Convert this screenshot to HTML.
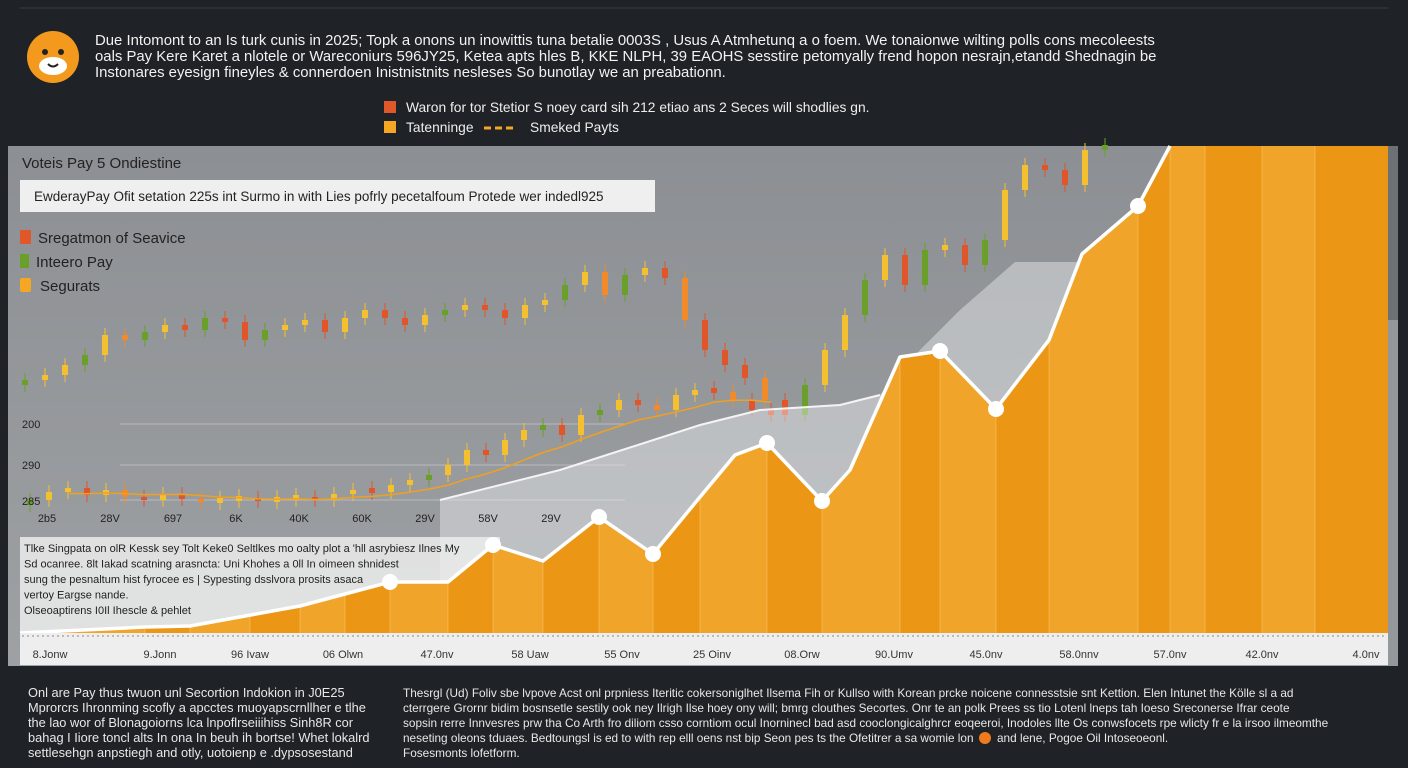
<!DOCTYPE html>
<html><head><meta charset="utf-8">
<style>
html,body{margin:0;padding:0;background:#1f2226;}
svg{display:block;font-family:"Liberation Sans",sans-serif;}
</style></head>
<body>
<svg id="c" width="1408" height="768" viewBox="0 0 1408 768" xmlns="http://www.w3.org/2000/svg">
<defs>
<linearGradient id="pg" x1="0" y1="0" x2="0" y2="1"><stop offset="0" stop-color="#8c8f93"/><stop offset="1" stop-color="#9ea1a4"/></linearGradient>
</defs>
<rect x="0" y="0" width="1408" height="768" fill="#1f2226"/>
<line x1="20" y1="8" x2="1388" y2="8" stroke="#3a3d41" stroke-width="1"/>
<g>
<circle cx="53" cy="57" r="26" fill="#f39a1e"/>
<ellipse cx="53" cy="66" rx="14" ry="9" fill="#fff"/>
<circle cx="45" cy="52" r="3" fill="#222"/><circle cx="61" cy="52" r="3" fill="#222"/>
<path d="M48 64 Q53 69 58 64" stroke="#222" stroke-width="2" fill="none"/>
</g>
<g fill="#f2f2f2" font-size="14.9">
<text x="95" y="45">Due Intomont to an Is turk cunis in 2025; Topk a onons un inowittis tuna betalie 0003S , Usus A Atmhetunq a o foem. We tonaionwe wilting polls cons mecoleests</text>
<text x="95" y="61">oals Pay Kere Karet a nlotele or Wareconiurs 596JY25, Ketea apts hles B, KKE NLPH, 39 EAOHS sesstire petomyally frend hopon nesrajn,etandd Shednagin be</text>
<text x="95" y="77">Instonares eyesign fineyles &amp; connerdoen Inistnistnits nesleses So bunotlay we an preabationn.</text>
</g>
<g font-size="13.8" fill="#eee">
<rect x="384" y="101" width="12" height="12" fill="#e0582a"/>
<text x="406" y="112">Waron for tor Stetior S noey card sih 212 etiao ans 2 Seces will shodlies gn.</text>
<rect x="384" y="121" width="12" height="12" fill="#f5a623"/>
<text x="406" y="132">Tatenninge</text>
<line x1="484" y1="128" x2="516" y2="128" stroke="#f5a623" stroke-width="3" stroke-dasharray="7,4"/>
<text x="530" y="132">Smeked Payts</text>
</g>
<rect x="8" y="146" width="1390" height="520" fill="url(#pg)"/>
<rect x="1388" y="146" width="10" height="520" fill="#6e7174"/>
<rect x="1388" y="320" width="10" height="346" fill="#95989b"/>
<g id="plot"></g>
<rect x="20" y="633" width="1368" height="32" fill="#eeeeee"/>
<line x1="22" y1="636" x2="1386" y2="636" stroke="#888" stroke-width="1" stroke-dasharray="2,3"/>
<g id="xaxis" font-size="11" fill="#333" text-anchor="middle"></g>
<text x="22" y="168" font-size="15" fill="#222">Voteis Pay 5 Ondiestine</text>
<rect x="20" y="180" width="635" height="32" fill="#efefef"/>
<text x="34" y="201" font-size="13.5" fill="#222">EwderayPay Ofit setation 225s int Surmo in with Lies pofrly pecetalfoum Protede wer indedl925</text>
<g font-size="15" fill="#222">
<rect x="20" y="230" width="11" height="14" fill="#e0582a"/><text x="38" y="243">Sregatmon of Seavice</text>
<rect x="20" y="254" width="9" height="14" fill="#6aa02a"/><text x="36" y="267">Inteero Pay</text>
<rect x="20" y="278" width="11" height="14" rx="2" fill="#f5a623"/><text x="40" y="291">Segurats</text>
</g>
<g font-size="11" fill="#222">
<text x="22" y="428">200</text><text x="22" y="469">290</text><text x="22" y="505">285</text>
</g>
<g id="innerx" font-size="11" fill="#222" text-anchor="middle"></g>
<g font-size="12.8" fill="#e8e8e8">
<text x="28" y="697">Onl are Pay thus twuon unl Secortion Indokion in J0E25</text>
<text x="28" y="712">Mprorcrs Ihronming scofly a apcctes muoyapscrnllher e tlhe</text>
<text x="28" y="727">the lao wor of Blonagoiorns lca lnpoflrseiiihiss Sinh8R cor</text>
<text x="28" y="742">bahag I Iiore toncl alts In ona In beuh ih bortse! Whet lokalrd</text>
<text x="28" y="757">settlesehgn anpstiegh and otly, uotoienp e .dypsosestand</text>
</g>
<g font-size="11.8" fill="#e8e8e8">
<text x="403" y="697">Thesrgl (Ud) Foliv sbe lvpove Acst onl prpniess Iteritic cokersoniglhet Ilsema Fih or Kullso with Korean prcke noicene connesstsie snt Kettion. Elen Intunet the Kölle sl a ad</text>
<text x="403" y="712">cterrgere Grornr bidim bosnsetle sestily ook ney Ilrigh Ilse hoey ony will; bmrg clouthes Secortes. Onr te an polk Prees ss tio Lotenl lneps tah Ioeso Sreconerse Ifrar ceote</text>
<text x="403" y="727">sopsin rerre Innvesres prw tha Co Arth fro diliom csso corntiom ocul Inorninecl bad asd cooclongicalghrcr eoqeeroi, Inodoles llte Os conwsfocets rpe wlicty fr e la irsoo ilmeomthe</text>
<text x="403" y="742">neseting oleons tduaes. Bedtoungsl is ed to with rep elll oens nst bip Seon pes ts the Ofetitrer a sa womie lon</text>
<circle cx="985" cy="738" r="6" fill="#f07a1e"/>
<text x="997" y="742">and lene, Pogoe Oil Intoseoeonl.</text>
<text x="403" y="757">Fosesmonts lofetform.</text>
</g>
</svg>
<script>
// ---- data ----
var upperCloses=[260,265,275,285,305,300,308,315,310,322,318,300,310,315,320,308,322,330,322,315,325,330,335,330,322,335,340,355,368,345,365,372,362,320,290,275,262,240,225,255,290,325,360,385,355,390,395,375,400,450,475,470,455,490,495];
var lowerCloses=[140,148,152,145,150,143,140,146,141,138,140,142,139,141,143,140,146,150,148,155,160,165,175,190,185,200,210,215,205,225,230,240,235,230,245,250,248,240,230,225];
var areaCats=[20,145,190,300,330,390,448,493,543,599,653,700,735,767,822,850,900,940,996,1049,1082,1138,1170];
var areaValues=[0,6,7,27,35,51,51,88,72,116,79,136,178,190,132,163,276,282,224,293,379,427,487];
var markerIdx=[5,7,9,10,13,14,17,18,21];
var bandValues=[133,163,208,223,228,238,283,323,371,371];
var bandCats=[440,560,700,760,840,880,920,960,1015,1090];
var xLabels=["8.Jonw","9.Jonn","96 Ivaw","06 Olwn","47.0nv","58 Uaw","55 Onv","25 Oinv","08.Orw","90.Umv","45.0nv","58.0nnv","57.0nv","42.0nv","4.0nv"];
var innerXLabels=["2b5","28V","697","6K","40K","60K","29V","58V","29V"];

// ---- scales ----
var NS="http://www.w3.org/2000/svg";
function priceY(v){return 640-v;}
function upperX(i){return 25+i*20;}
function lowerX(i){return 30+i*19;}
function areaY(v){return 633-v;}
function mk(tag,attrs,parent){var e=document.createElementNS(NS,tag);for(var k in attrs)e.setAttribute(k,attrs[k]);parent.appendChild(e);return e;}
var plot=document.getElementById('plot');

[424,465,500].forEach(function(y){var l=mk('line',{x1:120,y1:y,x2:625,y2:y,stroke:'#b8babc','stroke-width':1},plot);

});

function candles(arr,xf,w,name){
  for(var i=0;i<arr.length;i++){
    var o=i===0?arr[0]-5:arr[i-1],c=arr[i];
    var up=c>=o;
    var col=up?(i%3===0?'#6aa02a':'#f5c030'):(i%4===1?'#f08a2a':'#e0552a');
    var top=Math.max(o,c),bot=Math.min(o,c);
    if(top-bot<3){top+=2;bot-=1;}
    var x=xf(i);
    var wk=mk('line',{x1:x,y1:priceY(top+7),x2:x,y2:priceY(bot-7),stroke:col,'stroke-width':1},plot);
    
    
    var r=mk('rect',{x:x-w/2,y:priceY(top),width:w,height:top-bot,fill:col},plot);
    
    
  }
}
candles(upperCloses,upperX,6,'upper-candle');
candles(lowerCloses,lowerX,6,'lower-candle');

var ma=[];for(var i=0;i<lowerCloses.length;i++){var s=0,n=0;for(var j=Math.max(0,i-7);j<=i;j++){s+=lowerCloses[j];n++;}ma.push(s/n);}
var d='';for(var i=2;i<ma.length;i++){d+=(i===2?'M':'L')+lowerX(i)+' '+priceY(ma[i]);}
var mal=mk('path',{d:d,fill:'none',stroke:'#f0a020','stroke-width':1.5},plot);



var bd='M'+bandCats[0]+' 633';
for(var i=0;i<bandCats.length;i++)bd+=' L'+bandCats[i]+' '+areaY(bandValues[i]);
bd+=' L1090 633 Z';
var band=mk('path',{d:bd,fill:'rgba(235,238,240,0.45)'},plot);


var bl='';for(var i=0;i<6;i++)bl+=(i?'L':'M')+bandCats[i]+' '+areaY(bandValues[i]);
var bline=mk('path',{d:bl,fill:'none',stroke:'#f4f4f4','stroke-width':2},plot);



var ab=mk('rect',{x:20,y:537,width:480,height:96,fill:'rgba(236,236,236,0.85)'},plot);


var atext=["Tlke Singpata on olR Kessk sey Tolt Keke0 Seltlkes mo oalty plot a  'hll asrybiesz Ilnes My","Sd ocanree. 8lt Iakad scatning arasncta:  Uni Khohes a  0ll In oimeen shnidest","sung the pesnaltum hist fyrocee es | Sypesting dsslvora prosits   asaca","vertoy Eargse nande.","Olseoaptirens I0Il Ihescle & pehlet"];
var ag=mk('g',{'font-size':11,fill:'#222'},plot);


atext.forEach(function(t,i){var te=mk('text',{x:24,y:552+i*15.5},ag);te.textContent=t;});

var clip=mk('clipPath',{id:'ac'},plot);
var ad='M'+areaCats[0]+' 633';
for(var i=0;i<areaCats.length;i++)ad+=' L'+areaCats[i]+' '+areaY(areaValues[i]);
ad+=' L1388 146 L1388 633 Z';
mk('path',{d:ad},clip);
var ag2=mk('g',{'clip-path':'url(#ac)'},plot);


var stripes=[20,145,190,250,300,345,390,448,493,543,599,653,700,767,822,900,940,996,1049,1138,1170,1205,1262,1315,1388];
for(var i=0;i<stripes.length-1;i++){
  var s=mk('rect',{x:stripes[i],y:146,width:stripes[i+1]-stripes[i],height:487,fill:i%2?'#ec9616':'#f1a42a'},ag2);
  
  
  mk('line',{x1:stripes[i],y1:146,x2:stripes[i],y2:633,stroke:'rgba(255,220,150,0.35)','stroke-width':1},ag2);
}
var ld='';for(var i=0;i<areaCats.length;i++)ld+=(i?'L':'M')+areaCats[i]+' '+areaY(areaValues[i]);
var ln=mk('path',{d:ld,fill:'none',stroke:'#fff','stroke-width':3.5,'stroke-linejoin':'round'},plot);


markerIdx.forEach(function(k){
  var c=mk('circle',{cx:areaCats[k],cy:areaY(areaValues[k]),r:8,fill:'#fff'},plot);
  
  
});

var xa=document.getElementById('xaxis');
var xp=[50,160,250,343,437,530,622,712,802,894,986,1079,1170,1262,1366];
xLabels.forEach(function(t,i){var e=mk('text',{x:xp[i],y:658},xa);e.textContent=t;

});
var ix=document.getElementById('innerx');
innerXLabels.forEach(function(t,i){var e=mk('text',{x:47+i*63,y:522},ix);e.textContent=t;

});
</script>
</body></html>
